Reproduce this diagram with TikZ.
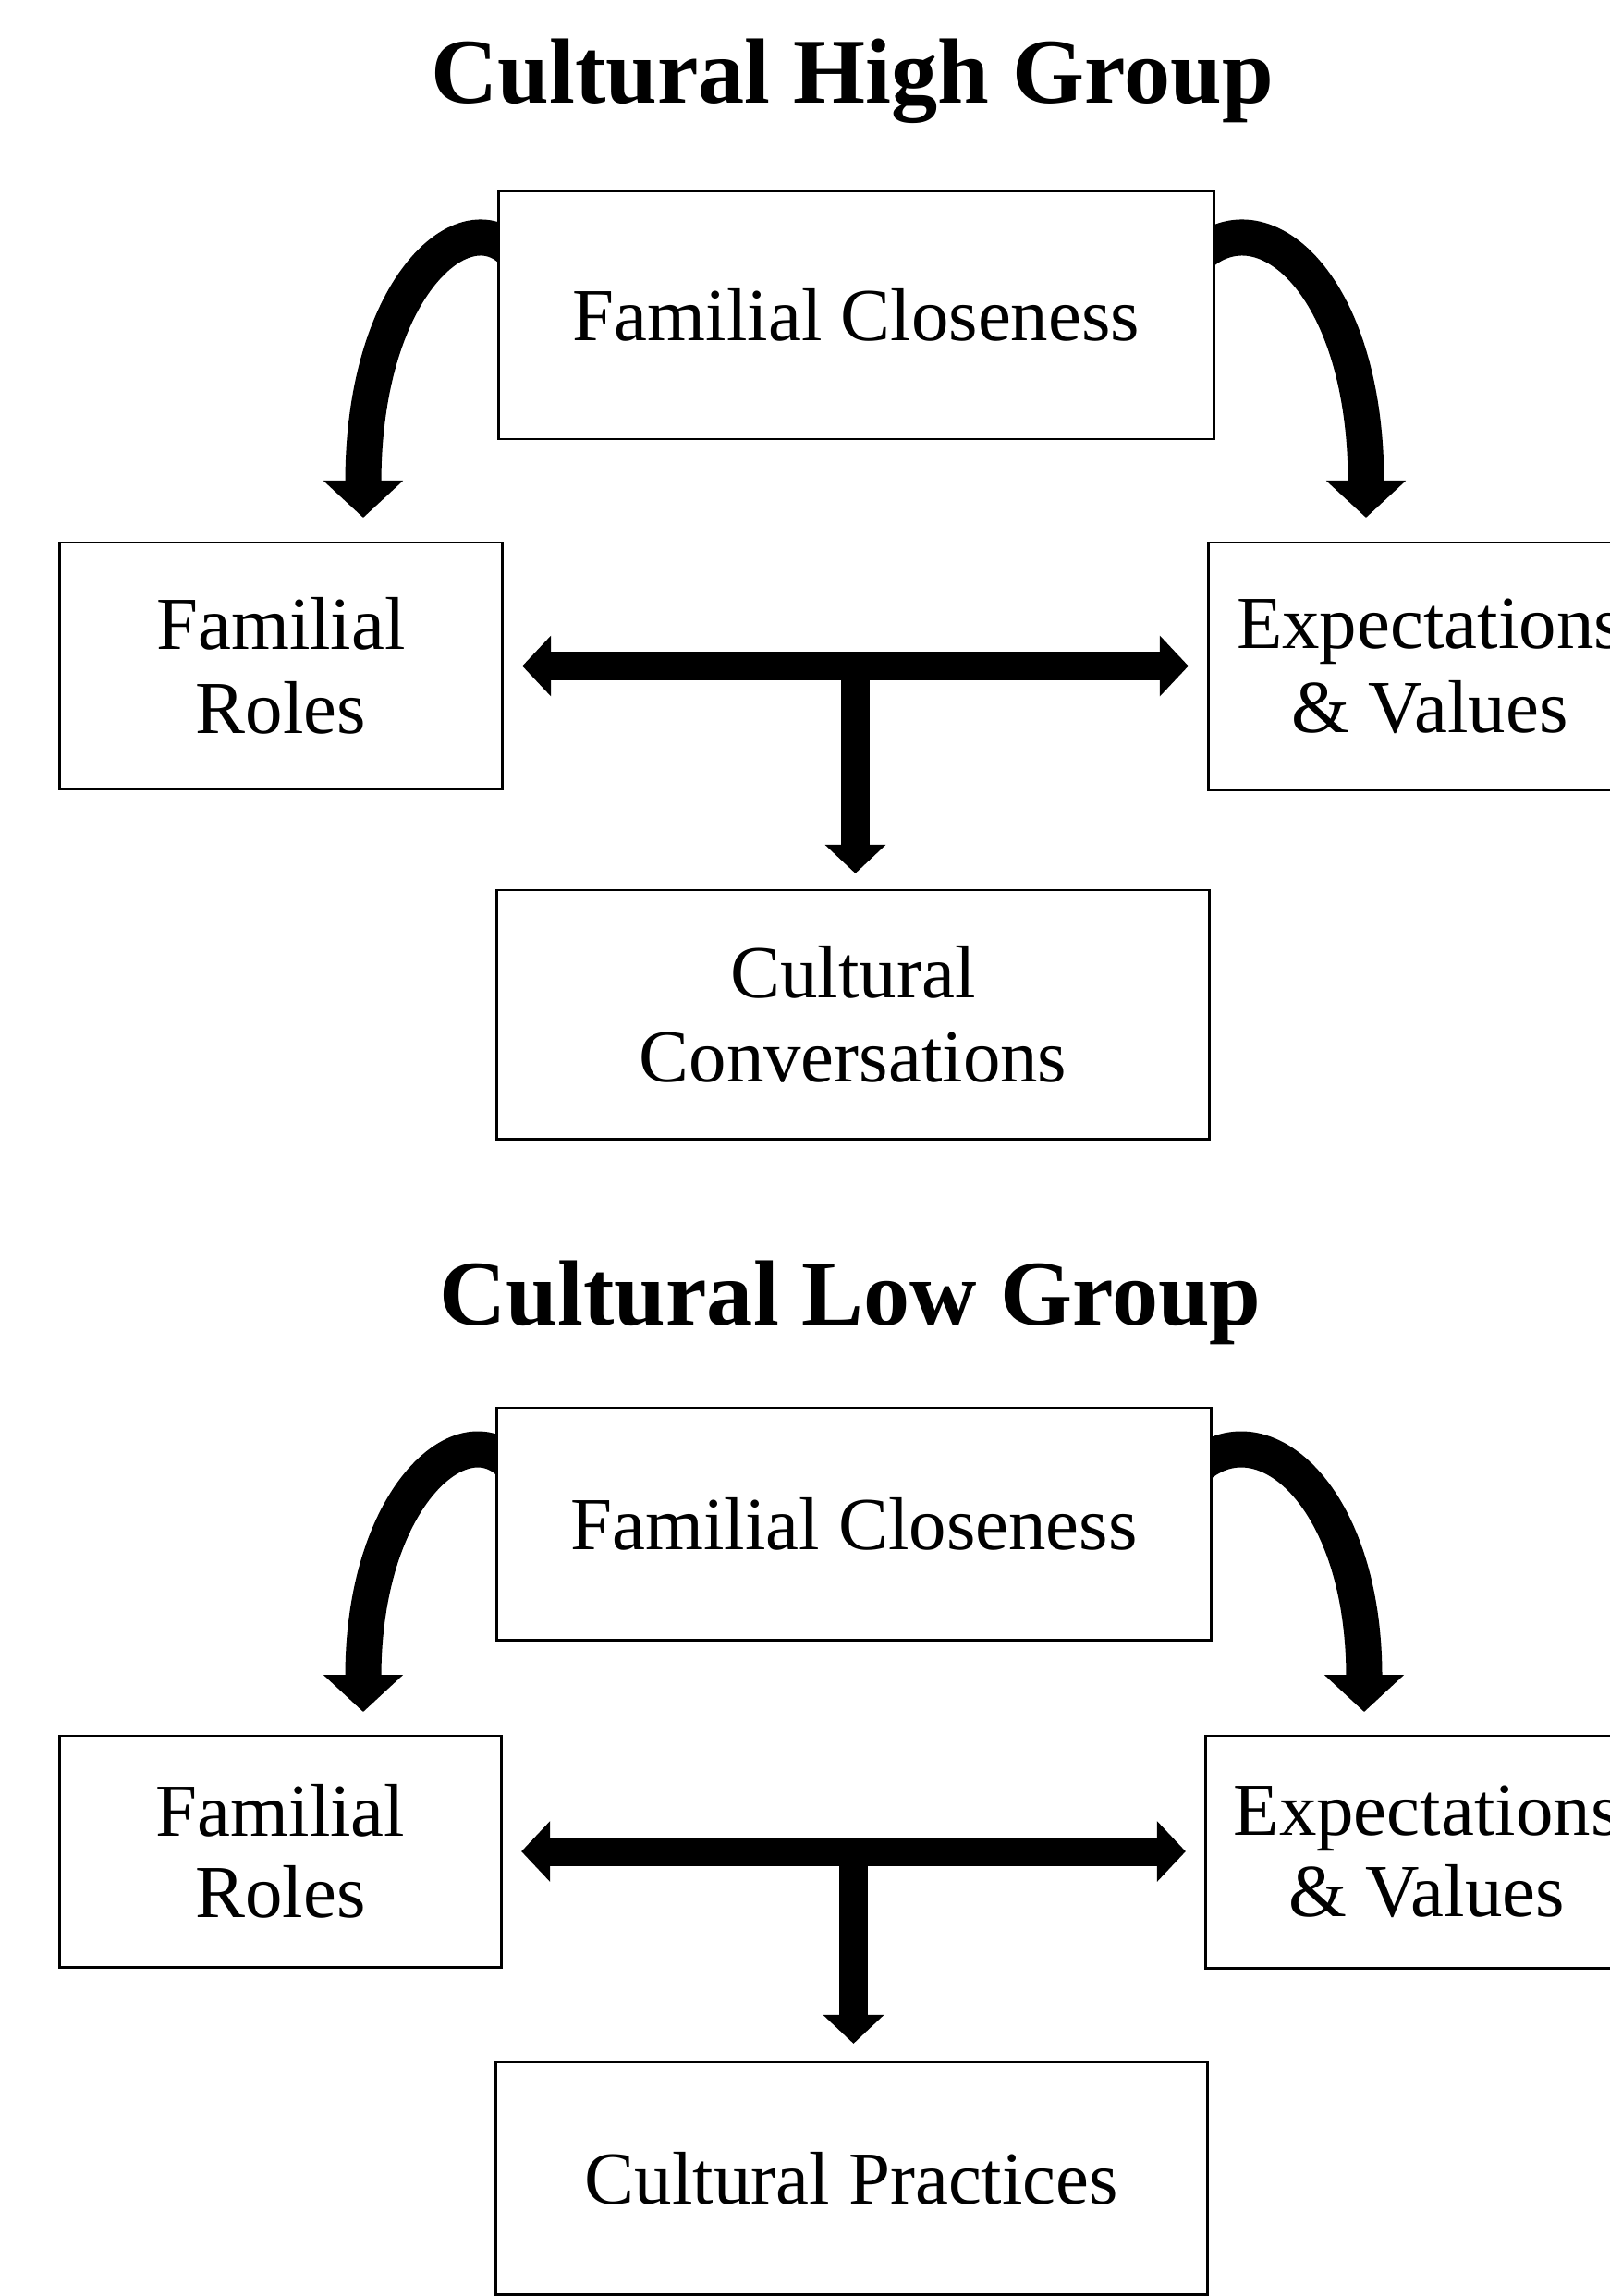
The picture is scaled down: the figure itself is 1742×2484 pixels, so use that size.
\documentclass[tikz,border=0pt]{standalone}
\usepackage{fontspec}
\setmainfont{Liberation Serif}
\usetikzlibrary{arrows.meta,calc,backgrounds}

\begin{document}
\begin{tikzpicture}[x=0.01cm,y=-0.01cm,
  box/.style={draw,fill=white,line width=0.8pt,inner sep=0pt,outer sep=0pt,
    align=center,font=\fontsize{23}{#1}\selectfont},
  box/.default=26,
  heading/.style={font=\bfseries\fontsize{28.5}{34}\selectfont,anchor=base},
  curvy/.style={line width=0.39cm,-{Triangle[width=0.84cm,length=0.40cm]}},
  fat/.style={line width=0.31cm},
  >={Triangle[width=0.64cm,length=0.31cm]}]
\useasboundingbox (0,0) rectangle (1742,2484);
% high group
\node[heading] (t1) at (922,111) {Cultural High Group};
\node[box,minimum width=7.73cm,minimum height=2.68cm] (fc1) at (926.5,341) {Familial Closeness};
\node[box,minimum width=4.78cm,minimum height=2.67cm] (fr1) at (304,720.5) {Familial\\Roles};
\node[box,minimum width=4.78cm,minimum height=2.68cm] (ev1) at (1547,721) {Expectations\\\& Values};
\node[box,minimum width=7.70cm,minimum height=2.69cm] (cc1) at (923,1097.5) {Cultural\\Conversations};
\coordinate (l1) at (393,560);
\coordinate (r1) at (1478,560);
\begin{scope}[on background layer]
\draw[curvy] ($(fc1.north west)+(25,78)$) .. controls (515,205) and (393,300) .. (l1);
\draw[curvy] ($(fc1.north east)+(-25,78)$) .. controls (1358,205) and (1478,300) .. (r1);
\end{scope}
\draw[fat,<->,shorten <=0.22cm,shorten >=0.22cm] (fr1.east) -- (fr1.east -| ev1.west);
\coordinate (j1) at ($(fr1.east)!0.5!(fr1.east -| ev1.west)$);
\draw[fat,->,shorten >=0.18cm] (j1) -- (j1 |- cc1.north);
%
% low group
\node[heading] (t2) at (920,1433) {Cultural Low Group};
\node[box=25,minimum width=7.72cm,minimum height=2.51cm] (fc2) at (924,1648.5) {Familial Closeness};
\node[box=25,minimum width=4.77cm,minimum height=2.50cm] (fr2) at (303.5,2003) {Familial\\Roles};
\node[box=25,minimum width=4.77cm,minimum height=2.51cm] (ev2) at (1543.5,2003.5) {Expectations\\\& Values};
\node[box=25,minimum width=7.69cm,minimum height=2.51cm] (cp2) at (921.5,2356.5) {Cultural Practices};
\coordinate (l2) at (393,1852);
\coordinate (r2) at (1476,1852);
\begin{scope}[on background layer]
\draw[curvy] ($(fc2.north west)+(25,74)$) .. controls (513,1516) and (393,1610) .. (l2);
\draw[curvy] ($(fc2.north east)+(-25,74)$) .. controls (1356,1516) and (1476,1610) .. (r2);
\end{scope}
\draw[fat,<->,shorten <=0.22cm,shorten >=0.22cm] (fr2.east) -- (fr2.east -| ev2.west);
\coordinate (j2) at ($(fr2.east)!0.5!(fr2.east -| ev2.west)$);
\draw[fat,->,shorten >=0.20cm] (j2) -- (j2 |- cp2.north);
\end{tikzpicture}
\end{document}
